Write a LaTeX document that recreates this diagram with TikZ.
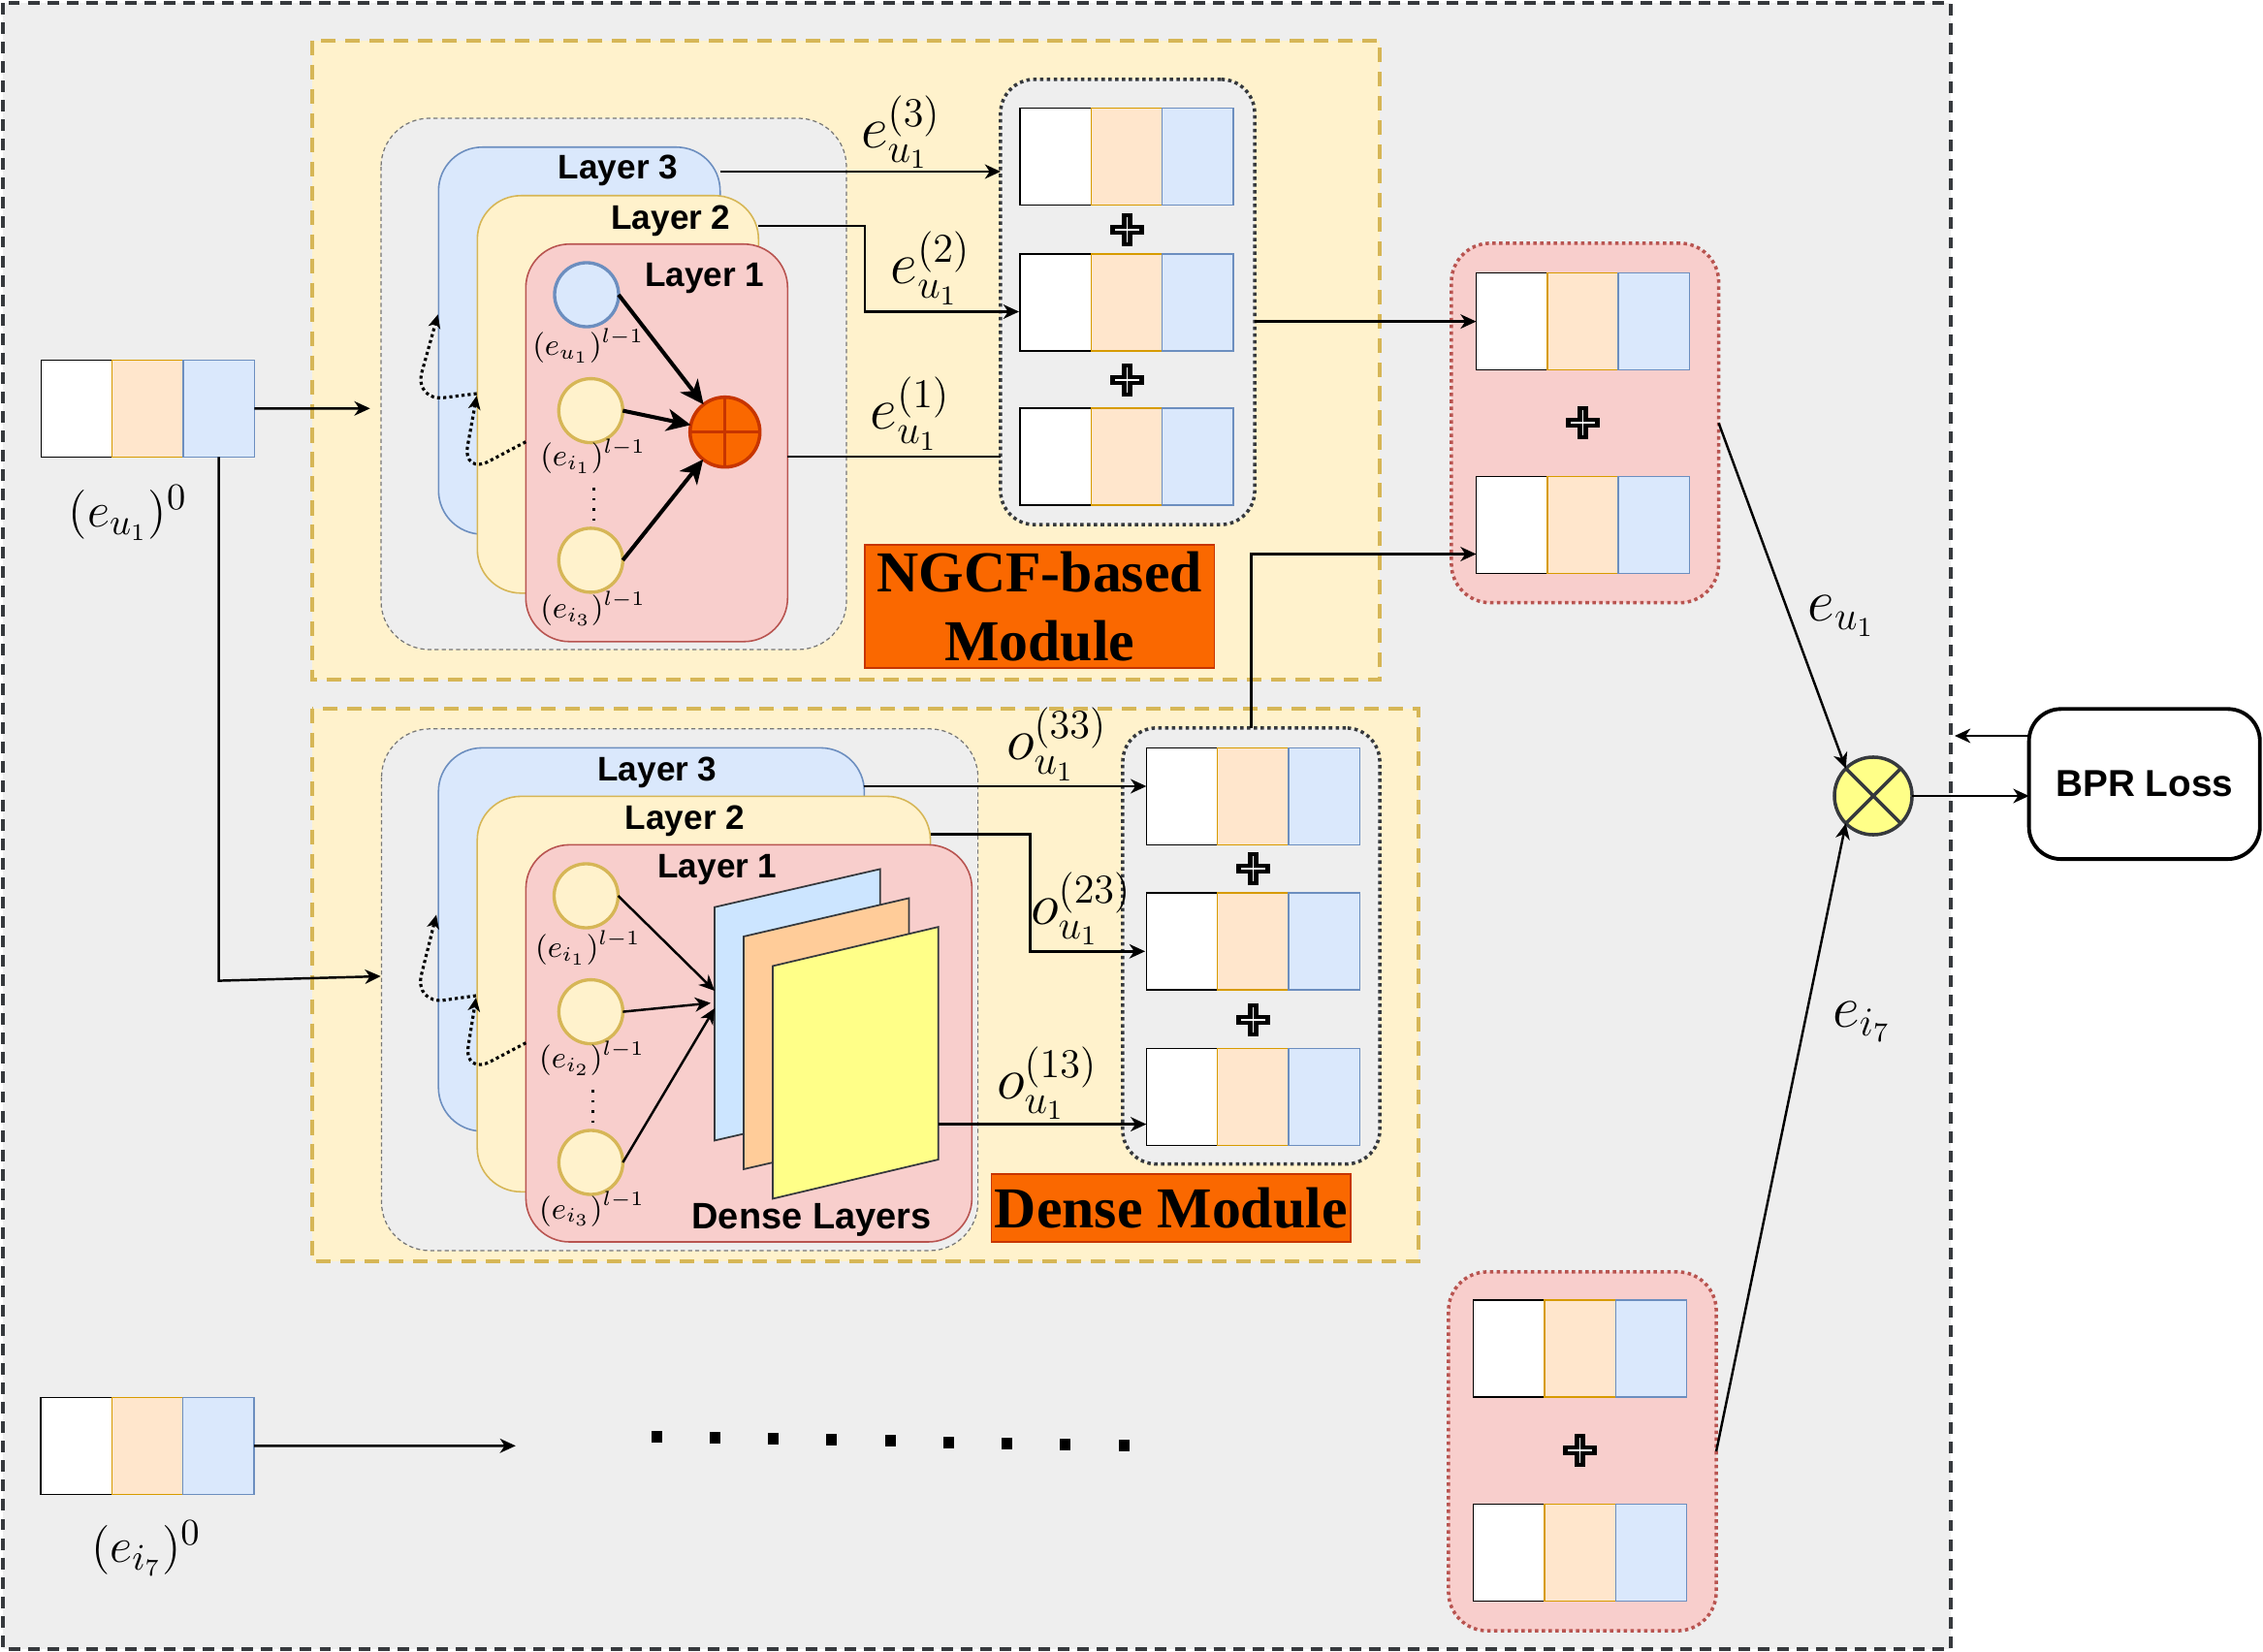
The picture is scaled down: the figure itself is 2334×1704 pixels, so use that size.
\documentclass[tikz,border=0pt]{standalone}
\usepackage{fontspec}
\newfontfamily\arialf{Liberation Sans}
\newfontfamily\timesf{Liberation Serif}
\usetikzlibrary{arrows.meta}
\definecolor{bgG}{HTML}{EEEEEE}
\definecolor{darkS}{HTML}{36393D}
\definecolor{yelF}{HTML}{FFF2CC}
\definecolor{yelS}{HTML}{D6B656}
\definecolor{bluF}{HTML}{DAE8FC}
\definecolor{bluS}{HTML}{6C8EBF}
\definecolor{redF}{HTML}{F8CECC}
\definecolor{redS}{HTML}{B85450}
\definecolor{peaF}{HTML}{FFE6CC}
\definecolor{peaS}{HTML}{D79B00}
\definecolor{orgF}{HTML}{FA6800}
\definecolor{orgS}{HTML}{C73500}
\definecolor{ylwF}{HTML}{FFFF88}
\definecolor{pnlB}{HTML}{CCE5FF}
\definecolor{pnlO}{HTML}{FFCC99}
\definecolor{innS}{HTML}{777777}
\newcommand{\embvec}[3]{%
  \node[cellW, anchor=north west] (#1a) at (#2,#3) {};
  \node[cellP, anchor=west] (#1b) at (#1a.east) {};
  \node[cellB, anchor=west] (#1c) at (#1b.east) {};
}
\tikzset{
  cell/.style={rectangle, minimum width=0.733cm, minimum height=1cm, inner sep=0pt, outer sep=0pt, line width=0.45pt},
  cellW/.style={cell, fill=white, draw=black},
  cellP/.style={cell, fill=peaF, draw=peaS},
  cellB/.style={cell, fill=bluF, draw=bluS},
  conn/.style={line width=0.7pt, -{Stealth[length=4.6pt,width=4.2pt,inset=1.4pt]}},
  wire/.style={line width=0.7pt},
  thickarr/.style={line width=1.15pt, -{Stealth[length=7pt,width=6.5pt,inset=2pt]}},
  dotarr/.style={line width=0.9pt, dash pattern=on 0.9pt off 0.9pt, rounded corners=9pt, -{Stealth[length=4pt,width=3.6pt,inset=1.1pt]}},
  outerbox/.style={fill=bgG, draw=darkS, line width=1.05pt, dash pattern=on 3.4pt off 2.3pt},
  modbox/.style={fill=yelF, draw=yelS, line width=1.2pt, dash pattern=on 4.3pt off 2.8pt},
  innbox/.style={fill=bgG, draw=innS, line width=0.35pt, dash pattern=on 1.2pt off 0.9pt, rounded corners=0.5cm},
  lyrB/.style={fill=bluF, draw=bluS, line width=0.45pt, rounded corners=0.45cm},
  lyrY/.style={fill=yelF, draw=yelS, line width=0.45pt, rounded corners=0.45cm},
  lyrR/.style={fill=redF, draw=redS, line width=0.45pt, rounded corners=0.45cm},
  lyrtxt/.style={font=\arialf\bfseries\fontsize{10}{12}\selectfont, inner sep=0pt},
  circ/.style={circle, minimum size=0.66cm, inner sep=0pt, outer sep=0pt, line width=0.95pt},
  lblS/.style={font=\fontsize{9}{11}\selectfont, inner sep=0pt},
  lblM/.style={font=\fontsize{15}{18}\selectfont, inner sep=0pt},
  lblL/.style={font=\fontsize{17}{20}\selectfont, inner sep=0pt},
  vdots/.style={line width=0.8pt, dash pattern=on 0.8pt off 2.2pt},
  outbox/.style={rectangle, fill=bgG, draw=darkS, line width=1pt, dash pattern=on 1pt off 1pt, rounded corners=0.35cm, inner sep=0pt, outer sep=0pt},
  redbox/.style={rectangle, fill=redF, draw=redS, line width=1pt, dash pattern=on 1pt off 1pt, rounded corners=0.4cm, inner sep=0pt, outer sep=0pt},
  modlbl/.style={rectangle, fill=orgF, draw=orgS, line width=0.4pt, inner sep=0pt, outer sep=0pt, font=\timesf\bfseries\fontsize{17}{20.2}\selectfont, align=center},
  panel/.style={draw=darkS, line width=0.5pt},
  bprbox/.style={rectangle, draw=black, fill=white, line width=1.1pt, rounded corners=0.33cm, inner sep=0pt, outer sep=0pt, font=\arialf\bfseries\fontsize{11}{13}\selectfont},
  plussign/.pic={\draw[line width=1.3pt, fill=white] (-15,-3) -- (-3,-3) -- (-3,-15) -- (3,-15) -- (3,-3) -- (15,-3) -- (15,3) -- (3,3) -- (3,15) -- (-3,15) -- (-3,3) -- (-15,3) -- cycle;}
}
\begin{document}
\begin{tikzpicture}[x=0.01cm,y=-0.01cm]
\useasboundingbox (0,0) rectangle (2334,1704);
\fill[white] (0,0) rectangle (2334,1704);
\draw[outerbox] (3,3) rectangle (2012,1701);
% modules
\draw[modbox] (322,42) rectangle (1423,701);
\draw[modbox] (322,731) rectangle (1463,1301);

% ===== NGCF module =====
\draw[innbox] (393,122) rectangle (873,670);
\draw[lyrB] (452.3,151.8) rectangle (742.7,551);
\draw[lyrY] (492.3,201.8) rectangle (782.3,611.8);
\draw[lyrR] (542.3,251.8) rectangle (812.3,661.8);
\node[lyrtxt] (ngl3) at (637.5,176) {Layer 3};
\node[lyrtxt] (ngl2) at (692,228) {Layer 2};
\node[lyrtxt] (ngl1) at (726.7,287) {Layer 1};
\node[circ, fill=bluF, draw=bluS] (ncu) at (605,304) {};
\node[circ, fill=yelF, draw=yelS] (nci1) at (609.3,423.6) {};
\node[circ, fill=yelF, draw=yelS] (nci3) at (609.3,577.9) {};
\node[lblS] (lcu) at (606.7,356.4) {$(e_{u_1})^{l-1}$};
\node[lblS] (lci1) at (611.7,470.7) {$(e_{i_1})^{l-1}$};
\node[lblS] (lci3) at (611.7,627.9) {$(e_{i_3})^{l-1}$};
\draw[vdots] (612.3,503) -- (612.3,538);
\node[circle, minimum size=0.72cm, fill=orgF, draw=orgS, line width=1pt, inner sep=0pt, outer sep=0pt] (nsum) at (747.7,445.7) {};
\draw[orgS, line width=1pt] (nsum.north) -- (nsum.south) (nsum.west) -- (nsum.east);
\draw[thickarr] (ncu.east) -- (nsum);
\draw[thickarr] (nci1.east) -- (nsum);
\draw[thickarr] (nci3.east) -- (nsum);
\coordinate (nd1s) at (542.3,455.7); \coordinate (nd1c) at (476.7,490.4); \coordinate (nd1e) at (491.7,408.2);
\draw[dotarr] (nd1s) -- (nd1c) -- (nd1e);
\coordinate (nd2s) at (491.7,406); \coordinate (nd2c) at (426.7,414); \coordinate (nd2e) at (451.7,324.3);
\draw[dotarr] (nd2s) -- (nd2c) -- (nd2e);

% NGCF outputs
\node[outbox, minimum width=2.62cm, minimum height=4.59cm] (ngout) at (1163,311.5) {};
\embvec{na}{1052}{111.6}
\embvec{nb}{1052}{261.9}
\embvec{nc}{1052}{421.2}
\pic at (1162.3,237) {plussign};
\pic at (1162.3,392) {plussign};
\coordinate (n3s) at (742.7,177); \coordinate (n3e) at (1032,177);
\draw[conn] (n3s) -- (n3e);
\coordinate (n2s) at (782.3,233); \coordinate (n2k) at (892,321.5); \coordinate (n2e) at (1051,321.5);
\draw[conn] (n2s) -| (n2k) -- (n2e);
\coordinate (n1s) at (812.3,471);
\draw[wire] (n1s) -- (n1s -| ngout.west);
\node[lblL] (le3) at (929.2,136) {$e_{u_1}^{(3)}$};
\node[lblL] (le2) at (959.8,276.5) {$e_{u_1}^{(2)}$};
\node[lblL] (le1) at (938.8,426.8) {$e_{u_1}^{(1)}$};
\node[modlbl, minimum width=3.606cm, minimum height=1.27cm] (ngcflbl) at (1072.3,625.5) {NGCF-based\\Module};

% ===== Dense module =====
\draw[innbox] (393.5,751.8) rectangle (1008.6,1290);
\draw[lyrB] (452.2,771.4) rectangle (891.4,1166.8);
\draw[lyrY] (492.2,821.4) rectangle (959.6,1229.3);
\draw[lyrR] (542.4,871.4) rectangle (1002.4,1281);
\node[lyrtxt] (dl3) at (678,797) {Layer 3};
\node[lyrtxt] (dl2) at (706.5,847) {Layer 2};
\node[lyrtxt] (dl1) at (740,897) {Layer 1};
\node[circ, fill=yelF, draw=yelS] (dci1) at (604.5,924) {};
\node[circ, fill=yelF, draw=yelS] (dci2) at (609.4,1043.6) {};
\node[circ, fill=yelF, draw=yelS] (dci3) at (609.4,1199) {};
\node[lblS] (ldi1) at (606.5,977.5) {$(e_{i_1})^{l-1}$};
\node[lblS] (ldi2) at (610.6,1091.8) {$(e_{i_2})^{l-1}$};
\node[lblS] (ldi3) at (610.6,1247) {$(e_{i_3})^{l-1}$};
\draw[vdots] (611.8,1124) -- (611.8,1160);
\draw[panel, fill=pnlB] (737.1,935.7) -- (907.8,896.4) -- (907.8,1137.1) -- (737.1,1176.4) -- cycle;
\draw[panel, fill=pnlO] (766.9,966) -- (937.6,926.4) -- (937.6,1166.8) -- (766.9,1206) -- cycle;
\draw[panel, fill=ylwF] (797.1,996.4) -- (967.8,956.1) -- (967.8,1196) -- (797.1,1236.4) -- cycle;
\coordinate (dt1) at (737.1,1022); \coordinate (dt2) at (733,1034.6); \coordinate (dt3) at (737.1,1040);
\draw[conn] (dci1.east) -- (dt1);
\draw[conn] (dci2.east) -- (dt2);
\draw[conn] (dci3.east) -- (dt3);
\node[lyrtxt, font=\arialf\bfseries\fontsize{10.8}{13}\selectfont] (dlay) at (837,1258) {Dense Layers};
\coordinate (dd1s) at (542.4,1075.7); \coordinate (dd1c) at (478,1109.6); \coordinate (dd1e) at (491,1029);
\draw[dotarr] (dd1s) -- (dd1c) -- (dd1e);
\coordinate (dd2s) at (491,1027); \coordinate (dd2c) at (427,1036); \coordinate (dd2e) at (450,943.6);
\draw[dotarr] (dd2s) -- (dd2c) -- (dd2e);

% Dense outputs
\node[outbox, minimum width=2.65cm, minimum height=4.496cm] (dnout) at (1290.5,975.8) {};
\embvec{da}{1182.3}{771.6}
\embvec{db}{1182.3}{921.2}
\embvec{dc}{1182.3}{1081.6}
\pic at (1292.3,896) {plussign};
\pic at (1292.3,1052) {plussign};
\coordinate (d3s) at (891.4,811);
\draw[conn] (d3s) -- (d3s -| daa.west);
\coordinate (d2s) at (959.6,860.7); \coordinate (d2k) at (1062.3,981.3); \coordinate (d2e) at (1181,981.3);
\draw[conn] (d2s) -| (d2k) -- (d2e);
\coordinate (dps) at (967.8,1159.6);
\draw[conn] (dps) -- (dps -| dca.west);
\node[lblL] (lo3) at (1090,767.7) {$o_{u_1}^{(33)}$};
\node[lblL] (lo2) at (1115,937.3) {$o_{u_1}^{(23)}$};
\node[lblL] (lo1) at (1080,1117) {$o_{u_1}^{(13)}$};
\node[modlbl, minimum width=3.7cm, minimum height=0.7cm] (denselbl) at (1207.7,1246) {Dense Module};

% ===== inputs =====
\embvec{ein}{42.3}{371.3}
\node[lblM] (lein) at (132,528.8) {$(e_{u_1})^0$};
\coordinate (inT) at (381.7,421.3);
\draw[conn] (einc.east) -- (inT);
\coordinate (inK) at (225.7,1011.6); \coordinate (inD) at (392.7,1007);
\draw[conn] (einc.south) -- (inK) -- (inD);
\embvec{eit}{42}{1441.3}
\node[lblM] (leit) at (150.7,1596.7) {$(e_{i_7})^0$};
\coordinate (itT) at (531.8,1491.3);
\draw[conn] (eitc.east) -- (itT);
\foreach \i in {0,...,8} {
  \fill ({677+\i*60.25-5.5},{1481.7+\i*1.16-6}) rectangle ++(11,12);
}

% ===== red aggregation boxes =====
\node[redbox, minimum width=2.755cm, minimum height=3.706cm] (red1) at (1634.75,436.3) {};
\embvec{ra}{1522.5}{281.6}
\embvec{rb}{1522.5}{491.5}
\pic at (1632.5,436) {plussign};
\node[redbox, minimum width=2.76cm, minimum height=3.70cm] (red2) at (1632,1497) {};
\embvec{sa}{1519.6}{1341}
\embvec{sb}{1519.6}{1551.3}
\pic at (1629.6,1496) {plussign};
\draw[conn] (ngout.east |- raa.west) -- (raa.west);
\coordinate (jn) at (1522.5,571.5);
\draw[conn] (dnout.north) -- (dnout.north |- jn) -- (jn);

% ===== score and loss =====
\node[circle, minimum size=0.8cm, fill=ylwF, draw=darkS, line width=1pt, inner sep=0pt, outer sep=0pt] (mul) at (1932,821) {};
\draw[darkS, line width=1pt] (mul.north west) -- (mul.south east) (mul.north east) -- (mul.south west);
\node[bprbox, minimum width=2.38cm, minimum height=1.547cm] (bpr) at (2211.7,808.7) {BPR Loss};
\draw[conn] (red1.east) -- (mul.north west);
\draw[conn] (red2.east) -- (mul.south west);
\draw[conn] (mul.east) -- (mul.east -| bpr.west);
\coordinate (fb) at (2016,759);
\draw[conn] (bpr.west |- fb) -- (fb);
\node[lblL] (leu) at (1899.4,635.5) {$e_{u_1}$};
\node[lblL] (lei) at (1920.4,1053.8) {$e_{i_7}$};
\end{tikzpicture}
\end{document}
